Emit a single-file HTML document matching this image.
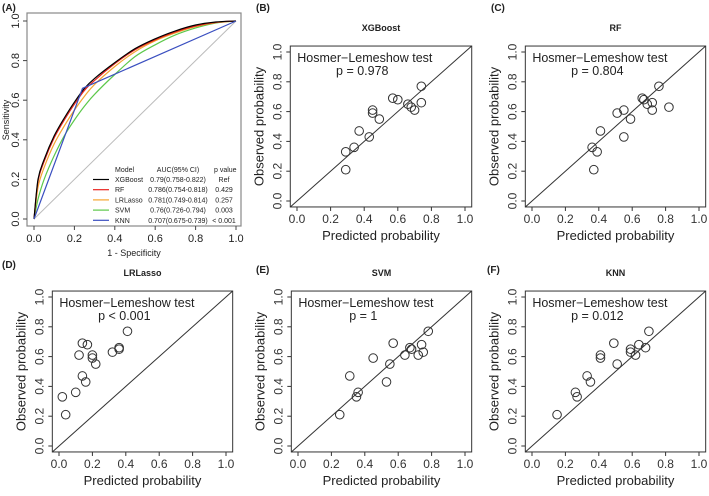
<!DOCTYPE html>
<html><head><meta charset="utf-8"><style>
body{margin:0;background:#fff;width:709px;height:491px;overflow:hidden}
svg{font-family:"Liberation Sans",Arial,sans-serif}
</style></head><body>
<svg id="fig" width="709" height="491" viewBox="0 0 709 491"></svg>
<script>
const rocFpr = [0,0.02,0.05,0.1,0.15,0.2,0.25,0.3,0.4,0.5,0.6,0.7,0.8,0.9,1];
const rocXGB = [0,0.2,0.3,0.42,0.51,0.59,0.66,0.71,0.79,0.86,0.91,0.95,0.98,0.995,1];
const rocRF  = [0,0.19,0.29,0.41,0.5,0.58,0.65,0.7,0.785,0.855,0.905,0.945,0.975,0.993,1];
const rocLR  = [0,0.16,0.26,0.38,0.47,0.55,0.62,0.68,0.77,0.845,0.9,0.94,0.972,0.992,1];
const rocSVM = [0,0.1,0.2,0.32,0.42,0.5,0.57,0.63,0.73,0.82,0.88,0.93,0.965,0.99,1];
const rocKNNx = [0,0.24,1];
const rocKNNy = [0,0.66,1];
const modelNames = ["XGBoost","RF","LRLasso","SVM","KNN"];
const modelAUC = ["0.79(0.758-0.822)","0.786(0.754-0.818)","0.781(0.749-0.814)","0.76(0.726-0.794)","0.707(0.675-0.739)"];
const modelP = ["Ref","0.429","0.257","0.003","< 0.001"];
const modelColors = ["#000000","#e8231f","#f4a531","#5cc84a","#3a4fc0"];
const ticks = [0,0.2,0.4,0.6,0.8,1.0];
const tickLabels = ["0.0","0.2","0.4","0.6","0.8","1.0"];

const predB=[0.29,0.29,0.34,0.37,0.43,0.45,0.45,0.49,0.57,0.60,0.66,0.68,0.70,0.74,0.74];
const obsB =[0.33,0.21,0.36,0.47,0.43,0.61,0.59,0.55,0.69,0.68,0.65,0.63,0.61,0.66,0.77];
const predC=[0.36,0.37,0.39,0.41,0.51,0.55,0.55,0.59,0.66,0.67,0.69,0.72,0.72,0.76,0.82];
const obsC =[0.36,0.21,0.33,0.47,0.59,0.61,0.43,0.55,0.69,0.68,0.65,0.66,0.61,0.77,0.63];
const predD=[0.02,0.04,0.10,0.12,0.14,0.14,0.16,0.17,0.20,0.20,0.22,0.32,0.36,0.36,0.41];
const obsD =[0.33,0.21,0.36,0.61,0.69,0.47,0.43,0.68,0.61,0.59,0.55,0.63,0.65,0.66,0.77];
const predE=[0.25,0.31,0.35,0.36,0.45,0.53,0.55,0.57,0.64,0.67,0.68,0.72,0.74,0.75,0.78];
const obsE =[0.21,0.47,0.33,0.36,0.59,0.43,0.55,0.69,0.61,0.66,0.65,0.61,0.68,0.63,0.77];
const predF=[0.15,0.26,0.27,0.33,0.35,0.41,0.41,0.49,0.51,0.59,0.59,0.62,0.64,0.68,0.70];
const obsF =[0.21,0.36,0.33,0.47,0.43,0.61,0.59,0.69,0.55,0.65,0.63,0.61,0.68,0.66,0.77];

const NS="http://www.w3.org/2000/svg";
const svg=document.getElementById('fig');
function mk(tag,attrs,parent){const e=document.createElementNS(NS,tag);for(const k in attrs)e.setAttribute(k,attrs[k]);(parent||svg).appendChild(e);return e;}
function txt(s,x,y,size,opts,parent){const e=mk('text',Object.assign({x:x,y:y,'font-size':size,fill:'#222'},opts||{}),parent);e.textContent=s;return e;}

// Panel A
const gA=mk('g',{});


const ax=v=>34+v*202, ay=v=>219-v*198;
const lblA=txt('(A)',2,11,10,{'font-weight':'bold'},gA);

mk('rect',{x:27,y:13,width:214,height:213,fill:'none',stroke:'#888','stroke-width':1.2},gA);
mk('line',{x1:ax(0),y1:ay(0),x2:ax(1),y2:ay(1),stroke:'#bbb','stroke-width':1},gA);
ticks.forEach((t,i)=>{
  mk('line',{x1:ax(t),y1:226,x2:ax(t),y2:230,stroke:'#444'},gA);
  const xl=txt(tickLabels[i],ax(t),242,11,{'text-anchor':'middle'},gA);
  
  mk('line',{x1:23,y1:ay(t),x2:27,y2:ay(t),stroke:'#444'},gA);
  const yl=txt(tickLabels[i],19,ay(t),11,{'text-anchor':'middle',transform:`rotate(-90 19 ${ay(t)})`},gA);
  
});
const xtA=txt('1 - Specificity',134,256,9,{'text-anchor':'middle'},gA);

const ytA=txt('Sensitivity',9,120,9,{'text-anchor':'middle',transform:'rotate(-90 9 120)'},gA);

function curve(xs,ys,color,name,smooth){
  const P=xs.map((x,i)=>[ax(x),ay(ys[i])]);
  let d='M'+P[0][0].toFixed(1)+','+P[0][1].toFixed(1);
  for(let i=0;i<P.length-1;i++){
    if(!smooth){d+='L'+P[i+1][0].toFixed(1)+','+P[i+1][1].toFixed(1);continue;}
    const p0=P[Math.max(i-1,0)],p1=P[i],p2=P[i+1],p3=P[Math.min(i+2,P.length-1)];
    const c1=[p1[0]+(p2[0]-p0[0])/6,p1[1]+(p2[1]-p0[1])/6];
    const c2=[p2[0]-(p3[0]-p1[0])/6,p2[1]-(p3[1]-p1[1])/6];
    d+=`C${c1[0].toFixed(1)},${c1[1].toFixed(1)} ${c2[0].toFixed(1)},${c2[1].toFixed(1)} ${p2[0].toFixed(1)},${p2[1].toFixed(1)}`;
  }
  const p=mk('path',{d:d,fill:'none',stroke:color,'stroke-width':1.2,'stroke-linejoin':'round'},gA);
  
}
curve(rocFpr,rocSVM,modelColors[3],'svm',true);
curve(rocFpr,rocLR,modelColors[2],'lrlasso',true);
curve(rocFpr,rocRF,modelColors[1],'rf',true);
curve(rocFpr,rocXGB,modelColors[0],'xgboost',true);
curve(rocKNNx,rocKNNy,modelColors[4],'knn',false);
txt('Model',115,172,7,{},gA);txt('AUC(95% CI)',178,172,7,{'text-anchor':'middle'},gA);txt('p value',214,172,7,{},gA);
modelNames.forEach((n,i)=>{
  const y=182+i*10.2;
  const g=mk('g',{},gA);
  
  mk('line',{x1:93,y1:y-2.5,x2:109,y2:y-2.5,stroke:modelColors[i],'stroke-width':1.2},g);
  txt(n,115,y,7,{},g);txt(modelAUC[i],178,y,7,{'text-anchor':'middle'},g);txt(modelP[i],224,y,7,{'text-anchor':'middle'},g);
});

// calibration panels
function calPanel(opts){
  const g=mk('g',{});
  
  
  const sx=v=>opts.x0+v*(opts.x1-opts.x0), sy=v=>opts.y0-v*(opts.y0-opts.y1);
  const L=sx(-0.04),R=sx(1.04),T=sy(1.04),B=sy(-0.04);
  const pl=txt(opts.label,opts.lx,opts.ly,10,{'font-weight':'bold'},g);
  
  const tt=txt(opts.name,(L+R)/2,opts.ty,9,{'text-anchor':'middle','font-weight':'bold'},g);
  
  mk('rect',{x:L,y:T,width:R-L,height:B-T,fill:'none',stroke:'#333','stroke-width':1},g);
  mk('line',{x1:L,y1:B,x2:R,y2:T,stroke:'#333','stroke-width':1},g);
  ticks.forEach((t,i)=>{
    mk('line',{x1:sx(t),y1:B,x2:sx(t),y2:B+4,stroke:'#333'},g);
    txt(tickLabels[i],sx(t),B+16,12,{'text-anchor':'middle',fill:'#333'},g);
    mk('line',{x1:L-4,y1:sy(t),x2:L,y2:sy(t),stroke:'#333'},g);
    const lx=L-9;
    txt(tickLabels[i],lx,sy(t),12,{'text-anchor':'middle',fill:'#333',transform:`rotate(-90 ${lx} ${sy(t)})`},g);
  });
  const xt=txt('Predicted probability',(L+R)/2,B+33,13,{'text-anchor':'middle'},g);
  
  const yx=L-27,ym=(T+B)/2;
  const yt=txt('Observed probability',yx,ym,13,{'text-anchor':'middle',transform:`rotate(-90 ${yx} ${ym})`},g);
  
  const h=txt('Hosmer\u2212Lemeshow test',L+7,T+16,12.5,{},g);
  
  const p=txt(opts.p,L+72,T+29,12.5,{'text-anchor':'middle'},g);
  
  opts.px.forEach((v,i)=>{
    const c=mk('circle',{cx:sx(v),cy:sy(opts.py[i]),r:4.3,fill:'none',stroke:'#333','stroke-width':1},g);
    
    
  });
}
calPanel({name:'XGBoost',label:'(B)',lx:256,ly:11,ty:31,x0:297,x1:465,y0:201,y1:52,p:'p = 0.978',px:predB,py:obsB});
calPanel({name:'RF',label:'(C)',lx:491,ly:11,ty:31,x0:532,x1:699,y0:201,y1:52,p:'p = 0.804',px:predC,py:obsC});
calPanel({name:'LRLasso',label:'(D)',lx:2,ly:268,ty:276,x0:59,x1:226,y0:446,y1:297,p:'p < 0.001',px:predD,py:obsD});
calPanel({name:'SVM',label:'(E)',lx:256,ly:273,ty:276,x0:298,x1:465,y0:446,y1:297,p:'p = 1',px:predE,py:obsE});
calPanel({name:'KNN',label:'(F)',lx:487,ly:273,ty:276,x0:532,x1:699,y0:446,y1:297,p:'p = 0.012',px:predF,py:obsF});
</script>
</body></html>
